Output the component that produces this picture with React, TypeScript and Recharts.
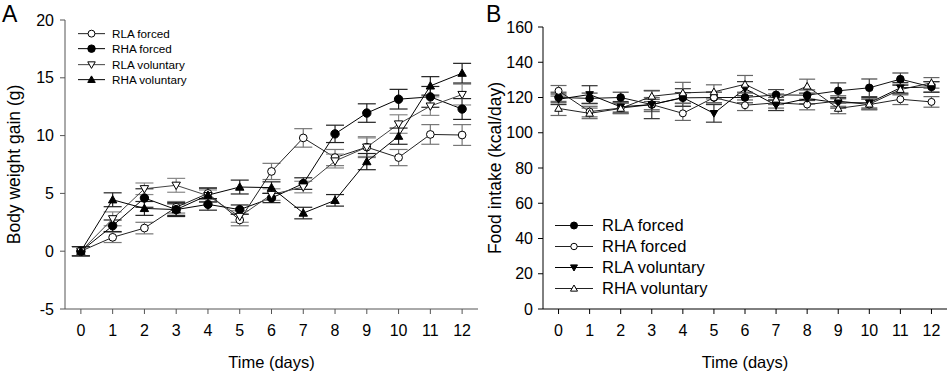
import React from 'react';
import {
  ComposedChart,
  Line,
  XAxis,
  YAxis,
  ErrorBar,
  Legend,
  Label
} from 'recharts';

// days of the experiment (x axis)
const days = [0, 1, 2, 3, 4, 5, 6, 7, 8, 9, 10, 11, 12];
const dayTicks = [0, 1, 2, 3, 4, 5, 6, 7, 8, 9, 10, 11, 12];

// Panel A: body weight gain (g)
const gainTicks = [-5, 0, 5, 10, 15, 20];
const rlaForcedGain = [0, 1.2, 2.0, 3.8, 5.0, 2.7, 6.9, 9.8, 8.1, 9.0, 8.1, 10.1, 10.05];
const rlaForcedGainErr = [0.4, 0.45, 0.5, 0.5, 0.5, 0.5, 0.7, 0.8, 0.7, 0.9, 0.7, 0.85, 0.9];
const rhaForcedGain = [0, 2.2, 4.6, 3.6, 4.05, 3.6, 4.6, 5.85, 10.15, 11.95, 13.15, 13.35, 12.3];
const rhaForcedGainErr = [0.4, 0.5, 0.8, 0.6, 0.5, 0.4, 0.4, 0.5, 0.75, 0.8, 0.85, 0.9, 0.9];
const rlaVoluntaryGain = [0, 2.8, 5.4, 5.7, 4.8, 3.0, 4.9, 5.55, 7.8, 9.0, 11.0, 12.55, 13.55];
const rlaVoluntaryGainErr = [0.4, 0.6, 0.5, 0.6, 0.5, 0.5, 0.5, 0.5, 0.6, 0.8, 0.8, 0.8, 0.9];
const rhaVoluntaryGain = [0, 4.45, 3.7, 3.6, 4.85, 5.55, 5.5, 3.3, 4.4, 7.75, 9.95, 14.3, 15.4];
const rhaVoluntaryGainErr = [0.4, 0.6, 0.6, 0.5, 0.6, 0.6, 0.5, 0.5, 0.5, 0.7, 0.7, 0.8, 0.85];

// Panel B: food intake (kcal/day)
const intakeTicks = [0, 20, 40, 60, 80, 100, 120, 140, 160];
const rlaForcedIntake = [120, 119.5, 120, 116, 119.8, 120, 120, 121.5, 121.3, 123.8, 125.5, 130.4, 126];
const rlaForcedIntakeErr = [3, 3, 3, 3, 3, 3, 3, 3, 3, 4.5, 5, 3.5, 3];
const rhaForcedIntake = [123.8, 112, 114, 116, 111, 120, 115.6, 117, 116, 118, 116, 119, 117.5];
const rhaForcedIntakeErr = [3, 3, 3, 4, 4, 3, 3, 3, 3, 3, 3, 3, 3];
const rlaVoluntaryIntake = [119, 121.7, 114.7, 116, 120, 111, 125, 115.6, 119.4, 117, 117, 125.5, 126];
const rlaVoluntaryIntakeErr = [3, 5, 3, 8, 5, 5, 4, 3, 3, 3, 3, 3, 3];
const rhaVoluntaryIntake = [113.8, 111, 113.8, 120.7, 122.6, 123.2, 127.5, 119, 126.4, 113.8, 116.2, 124.5, 128.3];
const rhaVoluntaryIntakeErr = [4, 3, 3, 3, 6, 4, 5, 3, 4, 3, 3, 3, 3];

type Shape = 'circle' | 'up' | 'down';

const gainData = days.map((d, i) => ({
  day: d,
  rlaForced: rlaForcedGain[i],
  rlaForcedErr: rlaForcedGainErr[i],
  rhaForced: rhaForcedGain[i],
  rhaForcedErr: rhaForcedGainErr[i],
  rlaVoluntary: rlaVoluntaryGain[i],
  rlaVoluntaryErr: rlaVoluntaryGainErr[i],
  rhaVoluntary: rhaVoluntaryGain[i],
  rhaVoluntaryErr: rhaVoluntaryGainErr[i],
}));

const intakeData = days.map((d, i) => ({
  day: d,
  rlaForced: rlaForcedIntake[i],
  rlaForcedErr: rlaForcedIntakeErr[i],
  rhaForced: rhaForcedIntake[i],
  rhaForcedErr: rhaForcedIntakeErr[i],
  rlaVoluntary: rlaVoluntaryIntake[i],
  rlaVoluntaryErr: rlaVoluntaryIntakeErr[i],
  rhaVoluntary: rhaVoluntaryIntake[i],
  rhaVoluntaryErr: rhaVoluntaryIntakeErr[i],
}));

interface SeriesStyle {
  key: string;
  name: string;
  shape: Shape;
  filled: boolean;
  line: string;
  err: string;
}

// panel A marker assignment
const gainSeries: SeriesStyle[] = [
  { key: 'rlaForced', name: 'RLA forced', shape: 'circle', filled: false, line: '#222', err: '#777' },
  { key: 'rhaForced', name: 'RHA forced', shape: 'circle', filled: true, line: '#000', err: '#222' },
  { key: 'rlaVoluntary', name: 'RLA voluntary', shape: 'down', filled: false, line: '#444', err: '#888' },
  { key: 'rhaVoluntary', name: 'RHA voluntary', shape: 'up', filled: true, line: '#000', err: '#222' },
];

// panel B uses a different marker assignment
const intakeSeries: SeriesStyle[] = [
  { key: 'rlaForced', name: 'RLA forced', shape: 'circle', filled: true, line: '#111', err: '#444' },
  { key: 'rhaForced', name: 'RHA forced', shape: 'circle', filled: false, line: '#222', err: '#666' },
  { key: 'rlaVoluntary', name: 'RLA voluntary', shape: 'down', filled: true, line: '#000', err: '#333' },
  { key: 'rhaVoluntary', name: 'RHA voluntary', shape: 'up', filled: false, line: '#222', err: '#666' },
];

const FONT = '"Liberation Sans", Arial, sans-serif';

function Marker({ cx, cy, shape, filled, size }: { cx: number; cy: number; shape: Shape; filled: boolean; size: number }) {
  const fill = filled ? '#000' : '#fff';
  if (shape === 'circle') {
    return <circle cx={cx} cy={cy} r={filled ? size * 0.5 : size * 0.46} fill={fill} stroke="#000" strokeWidth={1} />;
  }
  const h = size * 0.5;
  const pts = shape === 'up'
    ? `${cx},${cy - h} ${cx + h},${cy + h * 0.75} ${cx - h},${cy + h * 0.75}`
    : `${cx},${cy + h} ${cx + h},${cy - h * 0.75} ${cx - h},${cy - h * 0.75}`;
  return <polygon points={pts} fill={fill} stroke="#000" strokeWidth={1} />;
}

const makeDot = (s: SeriesStyle, size: number) => (props: any) => {
  const { cx, cy, index } = props;
  if (cx == null || cy == null) return <g key={index} />;
  return <Marker key={`${s.key}-${index}`} cx={cx} cy={cy} shape={s.shape} filled={s.filled} size={size} />;
};

function LegendBox({ series, rowH, fontSize, lineW, markerSize, gap }: { series: SeriesStyle[]; rowH: number; fontSize: number; lineW: number; markerSize: number; gap: number }) {
  return (
    <div style={{ fontFamily: FONT, fontSize, color: '#000' }}>
      {series.map((s) => (
        <div key={s.key} style={{ display: 'flex', alignItems: 'center', height: rowH, whiteSpace: 'nowrap' }}>
          <svg width={lineW} height={rowH} style={{ marginRight: gap }}>
            <line x1={0} y1={rowH / 2} x2={lineW} y2={rowH / 2} stroke={s.line} strokeWidth={1} />
            <Marker cx={lineW / 2} cy={rowH / 2} shape={s.shape} filled={s.filled} size={markerSize} />
          </svg>
          <span>{s.name}</span>
        </div>
      ))}
    </div>
  );
}

const tickStyle = { fontFamily: FONT, fontSize: 16, fill: '#000' };
const xTitleStyle = { fontFamily: FONT, fontSize: 16.5, fill: '#000' };
const yTitleStyle = { textAnchor: 'middle' as const, fontFamily: FONT, fontSize: 17.5, fill: '#000' };

export default function App() {
  return (
    <div style={{ position: 'absolute', left: 0, top: 0, width: 950, height: 377, background: '#fff', fontFamily: FONT }}>
      <span style={{ position: 'absolute', left: 2, top: 3, fontSize: 23, lineHeight: '23px' }}>A</span>
      <span style={{ position: 'absolute', left: 486, top: 3, fontSize: 23, lineHeight: '23px' }}>B</span>

      <div style={{ position: 'absolute', left: 0, top: 0 }}>
        <ComposedChart width={480} height={377} data={gainData} margin={{ top: 20, right: 2, left: 0, bottom: 0 }}>
          <XAxis
            dataKey="day"
            type="number"
            domain={[-0.5, 12.5]}
            ticks={dayTicks}
            interval={0}
            height={68}
            stroke="#555"
            tickSize={5}
            tickMargin={11}
            tick={tickStyle}
          >
            <Label value="Time (days)" position="insideBottom" offset={9} style={xTitleStyle} />
          </XAxis>
          <YAxis
            type="number"
            domain={[-5, 20]}
            ticks={gainTicks}
            interval={0}
            width={65}
            stroke="#555"
            tickSize={5}
            tickMargin={6}
            tick={tickStyle}
          >
            <Label value="Body weight gain (g)" angle={-90} position="insideLeft" offset={14} style={yTitleStyle} />
          </YAxis>
          {gainSeries.map((s) => (
            <Line
              key={s.key}
              dataKey={s.key}
              name={s.name}
              stroke={s.line}
              strokeWidth={1}
              dot={makeDot(s, 8.4)}
              activeDot={false}
              isAnimationActive={false}
            >
              <ErrorBar dataKey={`${s.key}Err`} direction="y" width={9} stroke={s.err} strokeWidth={1.2} />
            </Line>
          ))}
          <Legend
            layout="vertical"
            align="center"
            verticalAlign="middle"
            wrapperStyle={{ left: 78, top: 26, width: 'auto' }}
            content={() => <LegendBox series={gainSeries} rowH={15.3} fontSize={11.7} lineW={27} markerSize={7.5} gap={7} />}
          />
        </ComposedChart>
      </div>

      <div style={{ position: 'absolute', left: 480, top: 0 }}>
        <ComposedChart width={470} height={377} data={intakeData} margin={{ top: 27, right: 3, left: 0, bottom: 0 }}>
          <XAxis
            dataKey="day"
            type="number"
            domain={[-0.5, 12.5]}
            ticks={dayTicks}
            interval={0}
            height={68}
            stroke="#000"
            tickSize={5}
            tickMargin={11}
            tick={tickStyle}
          >
            <Label value="Time (days)" position="insideBottom" offset={9} style={xTitleStyle} />
          </XAxis>
          <YAxis
            type="number"
            domain={[0, 160]}
            ticks={intakeTicks}
            interval={0}
            width={63}
            stroke="#000"
            tickSize={5}
            tickMargin={5}
            tick={tickStyle}
          >
            <Label value="Food intake (kcal/day)" angle={-90} position="insideLeft" offset={15} style={yTitleStyle} />
          </YAxis>
          {intakeSeries.map((s) => (
            <Line
              key={s.key}
              dataKey={s.key}
              name={s.name}
              stroke={s.line}
              strokeWidth={1}
              dot={makeDot(s, 7.6)}
              activeDot={false}
              isAnimationActive={false}
            >
              <ErrorBar dataKey={`${s.key}Err`} direction="y" width={8} stroke={s.err} strokeWidth={1.2} />
            </Line>
          ))}
          <Legend
            layout="vertical"
            align="center"
            verticalAlign="middle"
            wrapperStyle={{ left: 75, top: 215, width: 'auto' }}
            content={() => <LegendBox series={intakeSeries} rowH={21} fontSize={16.5} lineW={38} markerSize={7} gap={9} />}
          />
        </ComposedChart>
      </div>
    </div>
  );
}
